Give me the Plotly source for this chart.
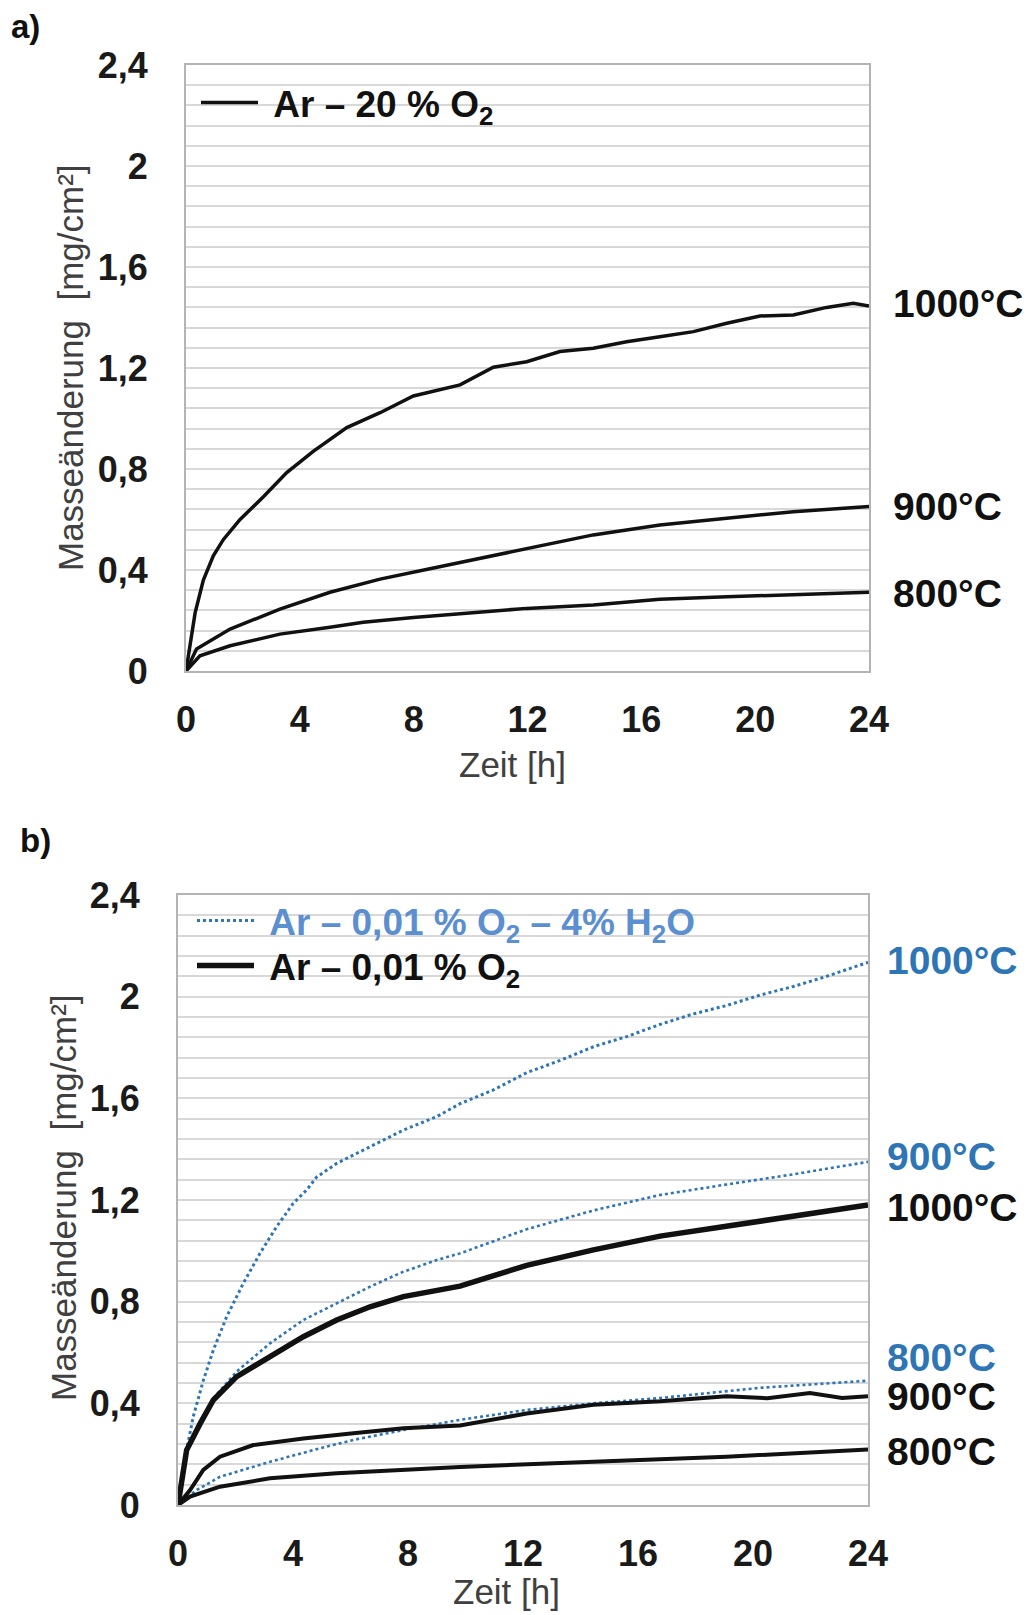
import plotly.graph_objects as go

# ---------------- data ----------------
# Panel a) Ar - 20 % O2
a1000_t = [0, 0.14, 0.32, 0.61, 0.96, 1.31, 1.9, 2.72, 3.54, 4.47, 5.65, 6.82, 7.99, 9.63, 10.8, 11.97,
           13.14, 14.31, 15.48, 16.65, 17.83, 19.0, 20.17, 21.34, 22.51, 23.45, 24.0]
a1000_v = [0, 0.10, 0.23, 0.36, 0.456, 0.52, 0.60, 0.69, 0.786, 0.87, 0.964, 1.023, 1.089, 1.133, 1.203, 1.225,
           1.265, 1.278, 1.304, 1.324, 1.344, 1.377, 1.406, 1.41, 1.44, 1.456, 1.445]
a900_t = [0, 0.37, 1.55, 3.3, 5.06, 6.82, 8.57, 9.63, 11.97, 14.31, 16.65, 19.0, 21.34, 24.0]
a900_v = [0, 0.087, 0.166, 0.245, 0.312, 0.364, 0.405, 0.43, 0.486, 0.539, 0.578, 0.605, 0.631, 0.651]
a800_t = [0, 0.49, 1.55, 3.3, 5.06, 6.23, 7.99, 9.63, 11.97, 14.31, 16.65, 19.0, 21.34, 24.0]
a800_v = [0, 0.06, 0.10, 0.146, 0.173, 0.193, 0.212, 0.228, 0.248, 0.261, 0.284, 0.294, 0.301, 0.312]

# Panel b) Ar - 0,01 % O2 - 4% H2O (blue) and Ar - 0,01 % O2 (black)
bw1000_t = [0, 0.18, 0.53, 0.88, 1.23, 1.69, 2.27, 2.85, 3.43, 4.01, 4.48, 4.82, 5.52, 6.68, 7.84, 9.0,
            9.81, 10.97, 12.13, 13.29, 14.45, 15.61, 16.77, 17.92, 19.08, 20.24, 21.4, 22.56, 24.0]
bw1000_v = [0, 0.15, 0.347, 0.49, 0.61, 0.74, 0.872, 0.99, 1.095, 1.187, 1.24, 1.29, 1.344, 1.41, 1.475, 1.528,
            1.579, 1.633, 1.701, 1.749, 1.803, 1.843, 1.891, 1.932, 1.965, 2.006, 2.04, 2.08, 2.135]
bw900_t = [0, 0.3, 0.77, 1.23, 2.04, 3.2, 4.36, 5.52, 6.68, 7.84, 9.0, 9.81, 12.13, 14.45, 16.77, 19.08, 21.4, 24.0]
bw900_v = [0, 0.216, 0.33, 0.42, 0.525, 0.636, 0.728, 0.793, 0.859, 0.918, 0.964, 0.99, 1.085, 1.159, 1.22,
           1.261, 1.301, 1.35]
bw800_t = [0, 0.65, 1.46, 3.2, 4.94, 6.1, 7.84, 9.81, 12.13, 14.45, 16.77, 20.24, 24.0]
bw800_v = [0, 0.059, 0.111, 0.17, 0.223, 0.256, 0.295, 0.335, 0.374, 0.40, 0.421, 0.461, 0.489]

bd1000_t = [0, 0.3, 0.77, 1.23, 2.04, 3.2, 4.36, 5.52, 6.68, 7.84, 9.0, 9.81, 12.13, 14.45, 16.77, 19.08, 21.4, 24.0]
bd1000_v = [0, 0.216, 0.32, 0.413, 0.505, 0.583, 0.662, 0.728, 0.78, 0.82, 0.845, 0.861, 0.943, 1.004, 1.058,
            1.098, 1.139, 1.18]
bd900_t = [0, 0.42, 0.88, 1.46, 2.62, 4.36, 6.1, 7.84, 9.81, 12.13, 14.45, 16.77, 19.08, 20.5, 21.98, 23.1, 24.0]
bd900_v = [0, 0.059, 0.138, 0.19, 0.236, 0.262, 0.282, 0.302, 0.313, 0.36, 0.394, 0.408, 0.428, 0.42, 0.441,
           0.421, 0.428]
bd800_t = [0, 0.42, 1.46, 3.2, 5.52, 7.84, 9.81, 14.45, 19.08, 24.0]
bd800_v = [0, 0.033, 0.072, 0.105, 0.125, 0.138, 0.15, 0.17, 0.19, 0.218]

y_ticks = [0, 0.4, 0.8, 1.2, 1.6, 2.0, 2.4]
y_tick_text = ["0", "0,4", "0,8", "1,2", "1,6", "2", "2,4"]
x_ticks = [0, 4, 8, 12, 16, 20, 24]

label_a_text = ["1000°C", "900°C", "800°C"]
label_a_y = [1.455, 0.652, 0.308]
label_b_text = ["1000°C", "900°C", "1000°C", "800°C", "900°C", "800°C"]
label_b_y = [2.144, 1.373, 1.172, 0.582, 0.425, 0.212]
label_b_blue = [True, True, False, True, False, False]

legend_a = "Ar – 20 % O<sub>2</sub>"
legend_b_blue = "Ar – 0,01 % O<sub>2</sub> – 4% H<sub>2</sub>O"
legend_b_black = "Ar – 0,01 % O<sub>2</sub>"

# ---------------- styling ----------------
W, H = 1027, 1615
FONT = "Liberation Sans, Arial, Helvetica, sans-serif"
BLUE = "#2E75B6"
BLUE_TXT = "#5B8FD0"
GRID = "#d8d8d8"
NB = "\u00a0"


def px_x(p):
    return p / W


def px_y(p):
    return 1 - p / H


fig = go.Figure()

# panel a traces
for t, v in [(a1000_t, a1000_v), (a900_t, a900_v), (a800_t, a800_v)]:
    fig.add_trace(go.Scatter(x=t, y=v, mode="lines", xaxis="x", yaxis="y",
                             line=dict(color="#111111", width=3.5),
                             name=NB + legend_a, legend="legend", legendgroup="a",
                             showlegend=(t is a1000_t)))

# panel b traces
for t, v, w in [(bw1000_t, bw1000_v, 3), (bw900_t, bw900_v, 2.6), (bw800_t, bw800_v, 2.6)]:
    fig.add_trace(go.Scatter(x=t, y=v, mode="lines", xaxis="x2", yaxis="y2",
                             line=dict(color=BLUE, width=w, dash="dot"),
                             name=NB + f"<span style='color:{BLUE_TXT}'>{legend_b_blue}</span>",
                             legend="legend2", legendgroup="bw", showlegend=(t is bw1000_t)))
for t, v, w in [(bd1000_t, bd1000_v, 5.5), (bd900_t, bd900_v, 4), (bd800_t, bd800_v, 4)]:
    fig.add_trace(go.Scatter(x=t, y=v, mode="lines", xaxis="x2", yaxis="y2",
                             line=dict(color="#111111", width=w),
                             name=NB + legend_b_black, legend="legend3", legendgroup="bd",
                             showlegend=(t is bd1000_t)))

xdom_a = [px_x(186), px_x(869)]
ydom_a = [px_y(671), px_y(65)]
xdom_b = [px_x(178), px_x(868)]
ydom_b = [px_y(1505), px_y(895)]

tickfont = dict(family=FONT, size=36, color="#1a1a1a", weight="bold")


def xaxis(dom, anchor):
    return dict(domain=dom, anchor=anchor, range=[0, 24], tickvals=x_ticks,
                ticktext=[str(v) for v in x_ticks], tickfont=tickfont,
                showgrid=False, zeroline=False, showline=True, mirror=True,
                linecolor="#b4b4b4", linewidth=2, ticks="", ticklabelstandoff=16,
                automargin=False, fixedrange=True)


def yaxis(dom, anchor):
    return dict(domain=dom, anchor=anchor, range=[0, 2.4], tickvals=y_ticks,
                ticktext=y_tick_text, tickfont=tickfont,
                showgrid=True, gridcolor=GRID, gridwidth=2,
                minor=dict(dtick=0.08, tick0=0, showgrid=True, gridcolor=GRID, gridwidth=2),
                zeroline=False, showline=True, mirror=True,
                linecolor="#b4b4b4", linewidth=2, ticks="", ticklabelstandoff=29,
                automargin=False, fixedrange=True)


annotations = []
# panel letters
annotations.append(dict(text="<b>a)</b>", x=px_x(9), y=px_y(27), xref="paper", yref="paper",
                        xanchor="left", yanchor="middle", showarrow=False,
                        font=dict(family=FONT, size=33, color="#111111")))
annotations.append(dict(text="<b>b)</b>", x=px_x(18), y=px_y(840), xref="paper", yref="paper",
                        xanchor="left", yanchor="middle", showarrow=False,
                        font=dict(family=FONT, size=33, color="#111111")))
# axis titles
ytitle = "Masseänderung  [mg/cm²]"
for xc, yc in [(70, 368), (63, 1198)]:
    annotations.append(dict(text=ytitle, x=px_x(xc), y=px_y(yc), xref="paper", yref="paper",
                            xanchor="center", yanchor="middle", textangle=-90, showarrow=False,
                            font=dict(family=FONT, size=35, color="#404040")))
for xc, yc in [(512, 765), (506, 1591)]:
    annotations.append(dict(text="Zeit [h]", x=px_x(xc), y=px_y(yc), xref="paper", yref="paper",
                            xanchor="center", yanchor="middle", showarrow=False,
                            font=dict(family=FONT, size=35, color="#404040")))
# right-hand temperature labels
for txt, yv in zip(label_a_text, label_a_y):
    annotations.append(dict(text=f"<b>{txt}</b>", x=24, y=yv, xref="x", yref="y",
                            xanchor="left", yanchor="middle", xshift=22, showarrow=False,
                            font=dict(family=FONT, size=39, color="#111111")))
for txt, yv, blue in zip(label_b_text, label_b_y, label_b_blue):
    annotations.append(dict(text=f"<b>{txt}</b>", x=24, y=yv, xref="x2", yref="y2",
                            xanchor="left", yanchor="middle", xshift=17, showarrow=False,
                            font=dict(family=FONT, size=39, color=BLUE if blue else "#111111")))

legend_font = dict(family=FONT, size=37, color="#111111", weight="bold")


def legend_at(xp, yp):
    return dict(x=px_x(xp), y=px_y(yp), xanchor="left", yanchor="top",
                bgcolor="rgba(0,0,0,0)", font=legend_font, itemwidth=57,
                tracegroupgap=0, borderwidth=0)


fig.update_layout(
    template="none",
    width=W, height=H,
    margin=dict(l=0, r=0, t=0, b=0, autoexpand=False),
    paper_bgcolor="white", plot_bgcolor="white",
    xaxis=xaxis(xdom_a, "y"), yaxis=yaxis(ydom_a, "x"),
    xaxis2=xaxis(xdom_b, "y2"), yaxis2=yaxis(ydom_b, "x2"),
    legend=legend_at(196, 72),
    legend2=legend_at(192, 890),
    legend3=legend_at(192, 935),
    annotations=annotations,
    showlegend=True,
)

fig.write_html("out.html")
